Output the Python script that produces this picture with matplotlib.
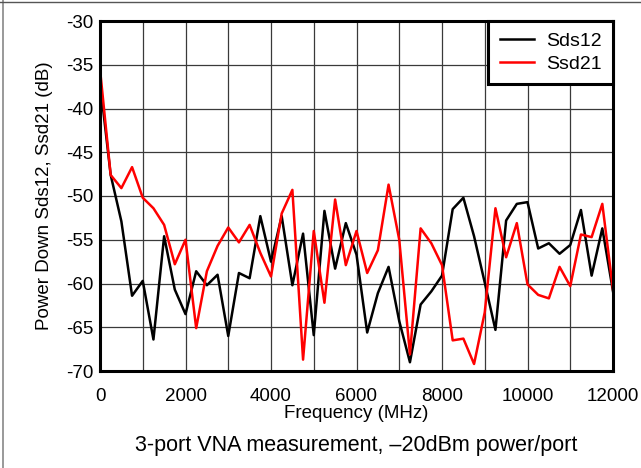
import numpy as np
import matplotlib
matplotlib.use("Agg")
import matplotlib.pyplot as plt
from matplotlib.lines import Line2D

plt.rcParams['font.family'] = ['Liberation Sans', 'DejaVu Sans']
plt.rcParams['axes.unicode_minus'] = False

# frequency points, 250 MHz step
freq_mhz = np.arange(0, 12001, 250)

sds12 = [-37.0, -47.6, -52.9, -61.4, -59.7, -66.4, -54.6, -60.7, -63.5, -58.6,
         -60.2, -59.0, -66.0, -58.8, -59.4, -52.3, -57.5, -52.3, -60.2, -54.3,
         -65.9, -51.7, -58.3, -53.1, -56.7, -65.6, -61.1, -58.1, -64.3, -69.0,
         -62.4, -60.9, -59.1, -51.5, -50.2, -54.6, -59.9, -65.3, -52.8, -50.9,
         -50.7, -56.0, -55.4, -56.6, -55.6, -51.6, -59.1, -53.7, -60.9]

ssd21 = [-35.5, -47.6, -49.1, -46.7, -50.2, -51.4, -53.3, -57.8, -55.0, -65.1,
         -58.6, -55.7, -53.6, -55.3, -53.3, -56.5, -59.2, -52.0, -49.3, -68.7,
         -54.0, -62.2, -50.4, -57.9, -54.0, -58.8, -56.2, -48.7, -55.0, -68.1,
         -53.7, -55.4, -57.9, -66.5, -66.3, -69.2, -63.3, -51.4, -57.0, -53.1,
         -60.1, -61.3, -61.7, -58.1, -60.3, -54.4, -54.7, -50.9, -60.7]

x_ticks = [0, 2000, 4000, 6000, 8000, 10000, 12000]
y_ticks = [-30, -35, -40, -45, -50, -55, -60, -65, -70]

W, H = 641, 468
fig = plt.figure(figsize=(W / 100, H / 100), dpi=100)
ax = fig.add_axes([100 / W, 1 - 371 / H, 513 / W, 350 / H])

ax.plot(freq_mhz, sds12, color='black', lw=1.8, label='Sds12', zorder=3)
ax.plot(freq_mhz, ssd21, color='#ff0000', lw=1.8, label='Ssd21', zorder=4)

ax.set_xlim(0, 12000)
ax.set_ylim(-70, -30)
ax.set_xticks(x_ticks)
ax.set_xticks(np.arange(0, 12001, 1000), minor=True)
ax.set_yticks(y_ticks)
ax.grid(True, which='both', color='#3a3a3a', lw=0.9)
ax.tick_params(which='both', length=0, labelsize=13.5, colors='black')
ax.tick_params(axis='x', pad=12)
ax.tick_params(axis='y', pad=5)
for s in ax.spines.values():
    s.set_linewidth(2.2)
    s.set_zorder(5)

ax.set_xlabel('Frequency (MHz)', fontsize=13.5, labelpad=0)
ax.set_ylabel('Power Down Sds12, Ssd21 (dB)', fontsize=13.5, labelpad=9)

leg = ax.legend(loc='upper right', fontsize=14, frameon=True, fancybox=False,
                borderaxespad=0, handlelength=1.75, handletextpad=0.6,
                labelspacing=0.25, borderpad=0.6)
leg.get_frame().set_edgecolor('black')
leg.get_frame().set_linewidth(2.2)
leg.get_frame().set_alpha(1)
leg.set_zorder(6)

fig.text(356.5 / W, 1 - 446 / H, '3-port VNA measurement, \u201320dBm power/port',
         ha='center', va='center', fontsize=15.5)

# thin gray frame on the left and top edges of the image
fig.add_artist(Line2D([3 / W, 3 / W], [0, 1], color='#888888', lw=1.2))
fig.add_artist(Line2D([0, 1], [1 - 2 / H, 1 - 2 / H], color='#555555', lw=1.0))

fig.savefig('out.png', dpi=100)
